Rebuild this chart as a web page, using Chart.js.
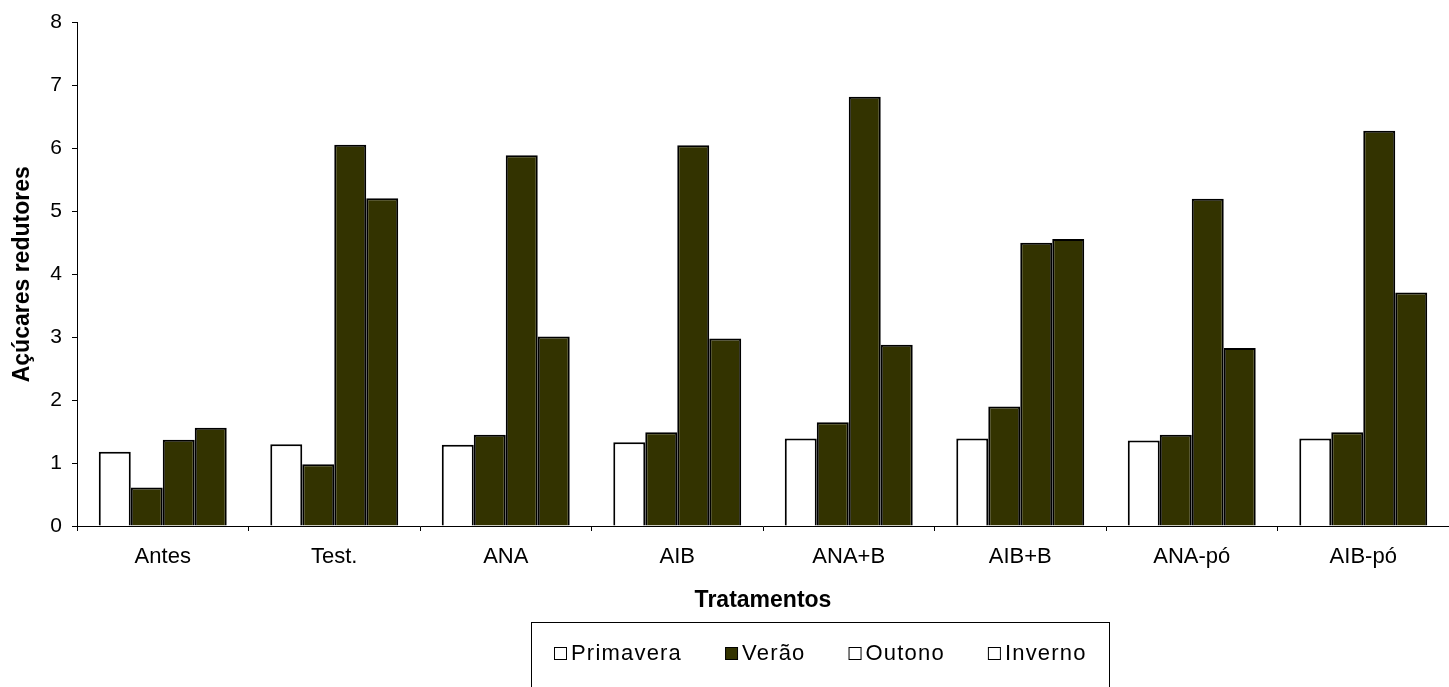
<!DOCTYPE html>
<html>
<head>
<meta charset="utf-8">
<script src="https://cdn.jsdelivr.net/npm/chart.js@4"></script>
<style>
  html, body { margin: 0; padding: 0; background: #fff; }
  #wrap { width: 1449px; height: 687px; position: relative; }
</style>
</head>
<body>
<div id="wrap"><canvas id="c"></canvas></div>
<script>
// Treatments (x categories)
const tratamentos = ['Antes', 'Test.', 'ANA', 'AIB', 'ANA+B', 'AIB+B', 'ANA-pó', 'AIB-pó'];

// Season names
const estacoes = ['Primavera', 'Verão', 'Outono', 'Inverno'];

// Reducing sugars per season, one value per treatment
const primavera = [1.18, 1.30, 1.29, 1.33, 1.39, 1.39, 1.36, 1.39];
const verao     = [0.61, 0.98, 1.45, 1.49, 1.65, 1.90, 1.45, 1.49];
const outono    = [1.37, 6.06, 5.89, 6.05, 6.82, 4.50, 5.20, 6.28];
const inverno   = [1.56, 5.21, 3.01, 2.98, 2.88, 4.56, 2.83, 3.71];

// Y axis tick values
const yTicks = [0, 1, 2, 3, 4, 5, 6, 7, 8];

// Styles
const FONT = "'Liberation Sans', Arial, sans-serif";
const DARK = '#333300';
const barFill = ['#ffffff', DARK, DARK, DARK];
const legendFill = ['#ffffff', DARK, '#ffffff', '#ffffff'];

const seriesValues = [primavera, verao, outono, inverno];

const datasets = estacoes.map((name, i) => ({
  label: name,
  data: seriesValues[i],
  backgroundColor: barFill[i],
  borderColor: '#000000',
  borderWidth: 2,
  barPercentage: 1.0,
  categoryPercentage: 0.746
}));

// Boxed legend drawn beneath the axis title
const boxedLegend = {
  id: 'boxedLegend',
  afterDraw(chart) {
    const ctx = chart.ctx;
    ctx.save();
    ctx.strokeStyle = '#000';
    ctx.lineWidth = 1;
    ctx.strokeRect(531.5, 622.5, 578, 80);

    ctx.font = '22px ' + FONT;
    ctx.letterSpacing = '1.2px';
    ctx.textBaseline = 'middle';
    ctx.textAlign = 'left';
    let x = 554;
    const cy = 653;
    const sw = 12;
    chart.data.datasets.forEach((ds, i) => {
      ctx.fillStyle = legendFill[i];
      ctx.fillRect(x + 0.5, cy - 6 + 0.5, sw, sw);
      ctx.strokeStyle = '#000';
      ctx.lineWidth = 1;
      ctx.strokeRect(x + 0.5, cy - 6 + 0.5, sw, sw);
      ctx.fillStyle = '#000';
      const tx = x + sw + 5;
      ctx.fillText(ds.label, tx, cy + 1);
      const w = ctx.measureText(ds.label).width;
      x = tx + w + 43;
    });
    ctx.restore();
  }
};

new Chart(document.getElementById('c'), {
  type: 'bar',
  data: { labels: tratamentos, datasets },
  options: {
    responsive: true,
    maintainAspectRatio: false,
    animation: false,
    layout: { padding: { top: 22, right: 0, bottom: 70, left: 0 } },
    plugins: {
      legend: { display: false },
      tooltip: { enabled: false }
    },
    scales: {
      x: {
        grid: { display: true, drawOnChartArea: false, drawTicks: true, tickLength: 5, color: '#000', offset: true },
        border: { display: true, color: '#000', width: 1 },
        ticks: { color: '#000', font: { family: FONT, size: 22 }, padding: 13, maxRotation: 0, autoSkip: false },
        title: { display: true, text: 'Tratamentos', color: '#000',
                 font: { family: FONT, size: 23, weight: 'bold' }, padding: { top: 0, bottom: 3 } },
        afterFit(scale) { scale.height = 91; }
      },
      y: {
        min: 0, max: 8,
        afterBuildTicks(scale) { scale.ticks = yTicks.map(v => ({ value: v })); },
        grid: { display: true, drawOnChartArea: false, drawTicks: true, tickLength: 5, color: '#000' },
        border: { display: true, color: '#000', width: 1 },
        ticks: { color: '#000', font: { family: FONT, size: 21 }, padding: 10 },
        title: { display: true, text: 'Açúcares redutores', color: '#000',
                 font: { family: FONT, size: 23, weight: 'bold' }, padding: { top: 9, bottom: 0 } },
        afterFit(scale) { scale.width = 77; }
      }
    }
  },
  plugins: [boxedLegend]
});
</script>
</body>
</html>
